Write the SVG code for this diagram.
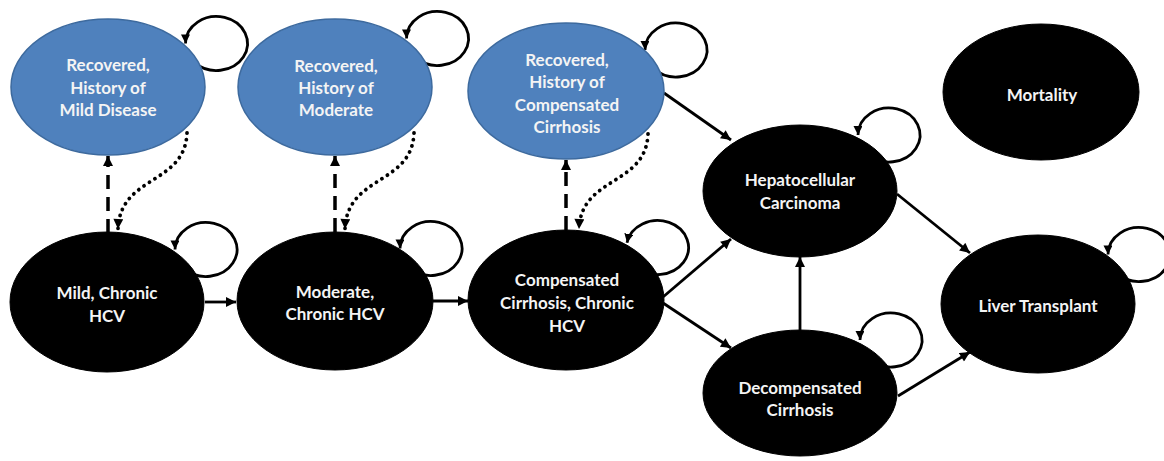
<svg xmlns="http://www.w3.org/2000/svg" width="1164" height="461" viewBox="0 0 1164 461">
<style>
.blue{fill:#4f81bd;stroke:#3d6a9e;stroke-width:1.5}
.black{fill:#000;stroke:#000;stroke-width:1}
.lbl{font-family:Lato,"Open Sans","Liberation Sans",sans-serif;font-weight:700;font-size:17px;fill:#f4f4f4;text-anchor:middle}
.solid{fill:none;stroke:#000;stroke-width:2.8;marker-end:url(#ah)}
.loop{fill:none;stroke:#000;stroke-width:2.8;marker-end:url(#ahs)}
.dash{fill:none;stroke:#000;stroke-width:3.5;stroke-dasharray:14 8;marker-end:url(#ahd)}
.dot{fill:none;stroke:#000;stroke-width:3.8;stroke-linecap:round;stroke-dasharray:0.1 6.4;marker-end:url(#ahd)}
</style>
<defs>
<marker id="ah" viewBox="0 0 10 10" refX="10" refY="5" markerWidth="11" markerHeight="10" markerUnits="userSpaceOnUse" orient="auto"><path d="M0,0 L10,5 L0,10 z" fill="#000"/></marker>
<marker id="ahs" viewBox="0 0 10 10" refX="10" refY="5" markerWidth="9" markerHeight="9" markerUnits="userSpaceOnUse" orient="auto"><path d="M0,0 L10,5 L0,10 z" fill="#000"/></marker>
<marker id="ahd" viewBox="0 0 10 10" refX="10" refY="5" markerWidth="11" markerHeight="10" markerUnits="userSpaceOnUse" orient="auto"><path d="M0,0 L10,5 L0,10 z" fill="#000"/></marker>
</defs>
<rect width="1164" height="461" fill="#fff"/>
<g id="connectors">
<path class="loop" d="M194.6 62.6 A31 27 0 1 0 185.5 43.5"/>
<path class="loop" d="M415.6 57.6 A31 27 0 1 0 406.5 38.5"/>
<path class="loop" d="M654.1 69.1 A31 27 0 1 0 645 50"/>
<path class="loop" d="M867.1 154.1 A31 27 0 1 0 858 135"/>
<path class="loop" d="M184.1 268.6 A31 27 0 1 0 175 249.5"/>
<path class="loop" d="M409.1 267.6 A31 27 0 1 0 400 248.5"/>
<path class="loop" d="M635.6 266.6 A31 27 0 1 0 627 242.8"/>
<path class="loop" d="M869.1 359.1 A31 27 0 1 0 860 340"/>
<path class="loop" d="M1117.1 273.6 A31 27 0 1 0 1108 254.5"/>
<path class="dash" d="M108 233 L108 156"/>
<path class="dash" d="M335 232 L335 156"/>
<path class="dash" d="M566 230 L566 160"/>
<path class="dot" d="M187 133 C185 185 120 175 118 229"/>
<path class="dot" d="M414 133 C412 185 347 175 345 229"/>
<path class="dot" d="M648 134 C646 186 581 176 579 229"/>
<path class="solid" d="M205 302 L236 302"/>
<path class="solid" d="M433 301 L468 301"/>
<path class="solid" d="M663 297 L731 239"/>
<path class="solid" d="M663 303 L731 348"/>
<path class="solid" d="M800 330 L800 257"/>
<path class="solid" d="M664 93 L731 140"/>
<path class="solid" d="M897 194 L970 253"/>
<path class="solid" d="M898 396 L970 352"/>
</g>
<g id="n-rec-mild"><ellipse class="blue" cx="108" cy="87" rx="97" ry="68"/><text class="lbl" x="108" y="71">Recovered,<tspan x="108" dy="22.5">History of</tspan><tspan x="108" dy="22.5">Mild Disease</tspan></text></g>
<g id="n-rec-mod"><ellipse class="blue" cx="335" cy="87" rx="97" ry="68"/><text class="lbl" x="336" y="72">Recovered,<tspan x="336" dy="22">History of</tspan><tspan x="336" dy="22">Moderate</tspan></text></g>
<g id="n-rec-comp"><ellipse class="blue" cx="566" cy="91" rx="98" ry="68"/><text class="lbl" x="567" y="66">Recovered,<tspan x="567" dy="22.3">History of</tspan><tspan x="567" dy="22.3">Compensated</tspan><tspan x="567" dy="22.3">Cirrhosis</tspan></text></g>
<g id="n-mortality"><ellipse class="black" cx="1041" cy="92" rx="98" ry="68"/><text class="lbl" x="1042" y="101">Mortality</text></g>
<g id="n-mild"><ellipse class="black" cx="107" cy="302" rx="97" ry="70"/><text class="lbl" x="107" y="299">Mild, Chronic<tspan x="107" dy="23">HCV</tspan></text></g>
<g id="n-moderate"><ellipse class="black" cx="335" cy="301" rx="98" ry="69"/><text class="lbl" x="335" y="298">Moderate,<tspan x="335" dy="22">Chronic HCV</tspan></text></g>
<g id="n-comp"><ellipse class="black" cx="566" cy="300" rx="98" ry="70"/><text class="lbl" x="567" y="286">Compensated<tspan x="567" dy="23">Cirrhosis, Chronic</tspan><tspan x="567" dy="23">HCV</tspan></text></g>
<g id="n-hcc"><ellipse class="black" cx="800" cy="191" rx="97" ry="66"/><text class="lbl" x="800" y="186">Hepatocellular<tspan x="800" dy="23">Carcinoma</tspan></text></g>
<g id="n-decomp"><ellipse class="black" cx="800" cy="393" rx="97" ry="63"/><text class="lbl" x="800" y="394">Decompensated<tspan x="800" dy="22">Cirrhosis</tspan></text></g>
<g id="n-liver"><ellipse class="black" cx="1038" cy="304" rx="97" ry="69"/><text class="lbl" x="1038" y="312">Liver Transplant</text></g>
</svg>
